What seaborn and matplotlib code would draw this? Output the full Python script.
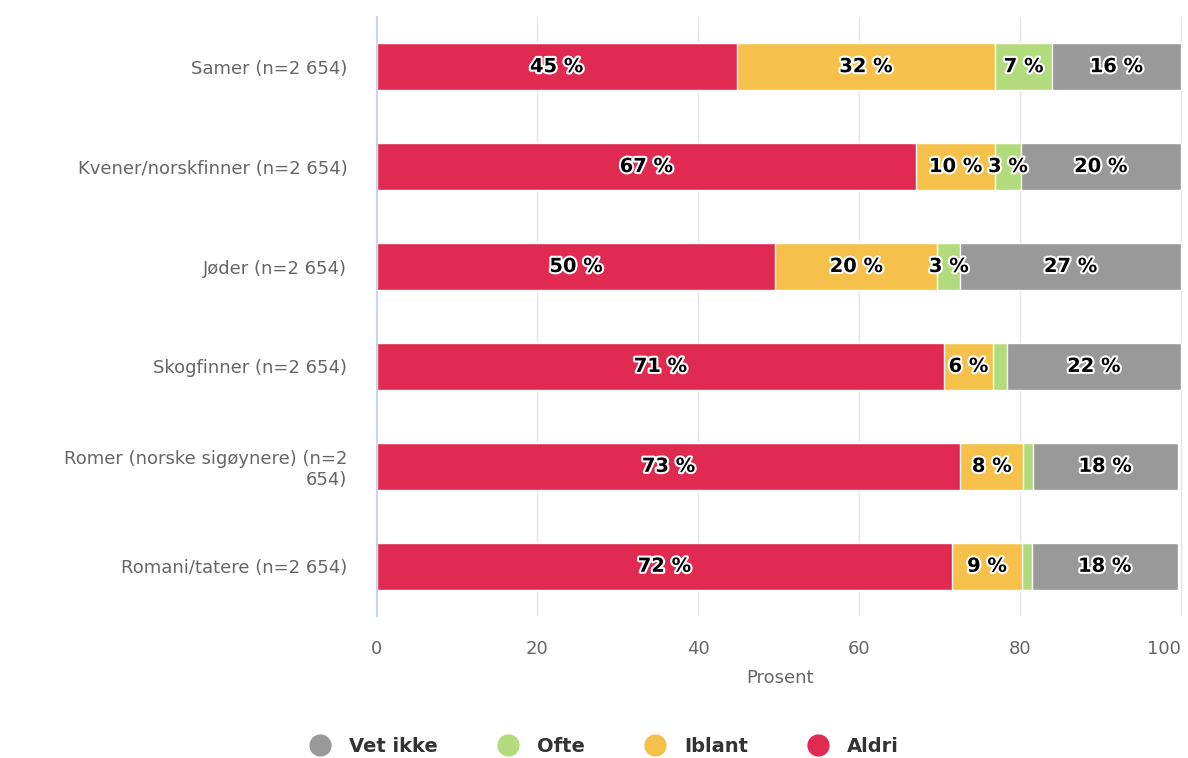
import pandas as pd
import numpy as np
import matplotlib.pyplot as plt
import seaborn as sns
import matplotlib.patheffects as pe
from matplotlib.lines import Line2D

categories = ['Samer (n=2 654)', 'Kvener/norskfinner (n=2 654)', 'Jøder (n=2 654)',
              'Skogfinner (n=2 654)', 'Romer (norske sigøynere) (n=2\n654)', 'Romani/tatere (n=2 654)']
aldri = [44.8, 67.1, 49.6, 70.6, 72.6, 71.6]
iblant = [32.1, 9.8, 20.1, 6.0, 7.8, 8.6]
ofte = [7.1, 3.2, 2.9, 1.8, 1.2, 1.3]
vet_ikke = [16.0, 19.9, 27.4, 21.6, 18.0, 18.1]

series = ['Aldri', 'Iblant', 'Ofte', 'Vet ikke']
colors = {'Aldri': '#E02A51', 'Iblant': '#F5C14B', 'Ofte': '#B2DB7E', 'Vet ikke': '#999999'}

df = pd.DataFrame({'kategori': categories, 'Aldri': aldri, 'Iblant': iblant,
                   'Ofte': ofte, 'Vet ikke': vet_ikke})
cum = df[series].cumsum(axis=1)

sns.set_style('white')
plt.rcParams['font.family'] = ['DejaVu Sans']

fig = plt.figure(figsize=(11.88, 7.58), dpi=100)
ax = fig.add_axes([0.317, 0.187, 0.679, 0.791])

# stacked bars: draw cumulative totals from largest to smallest
for s in reversed(series):
    sns.barplot(x=cum[s], y=df['kategori'], orient='h', color=colors[s], saturation=1,
                width=0.47, edgecolor='white', linewidth=1, ax=ax, zorder=2)

# data labels
for i in range(len(categories)):
    for s in series:
        v = df[s][i]
        if v < 2.5:
            continue
        x = cum[s][i] - v / 2
        ax.text(x, i, f'{round(v)} %', ha='center', va='center', fontsize=14,
                fontweight='bold', color='black', zorder=5,
                path_effects=[pe.withStroke(linewidth=3, foreground='white')])

ax.set_xlim(0, 100.3)
ax.set_ylim(5.5, -0.5)
ax.set_xticks([0, 20, 40, 60, 80, 100])
ax.grid(axis='x', color='#e6e6e6', linewidth=1, zorder=0)
ax.set_axisbelow(True)
for sp in ['top', 'right', 'bottom']:
    ax.spines[sp].set_visible(False)
ax.spines['left'].set_color('#ccd6eb')
ax.spines['left'].set_linewidth(1.5)
ax.tick_params(axis='y', length=0, pad=21, labelsize=13, labelcolor='#666666')
ax.tick_params(axis='x', length=0, pad=17, labelsize=13, labelcolor='#666666')
ax.get_xticklabels()[-1].set_horizontalalignment('right')
ax.set_ylabel('')
ax.set_xlabel('Prosent', fontsize=13, color='#666666', labelpad=8)

handles = [Line2D([0], [0], marker='o', linestyle='', markersize=15,
                  markerfacecolor=colors[s], markeredgecolor=colors[s])
           for s in ['Vet ikke', 'Ofte', 'Iblant', 'Aldri']]
leg = fig.legend(handles, ['Vet ikke', 'Ofte', 'Iblant', 'Aldri'], loc='center',
                 bbox_to_anchor=(0.505, 0.015), ncol=4, frameon=False,
                 handletextpad=0.5, columnspacing=2.6,
                 prop={'size': 14, 'weight': 'bold'})
for t in leg.get_texts():
    t.set_color('#333333')

plt.savefig('out.png', dpi=100)
